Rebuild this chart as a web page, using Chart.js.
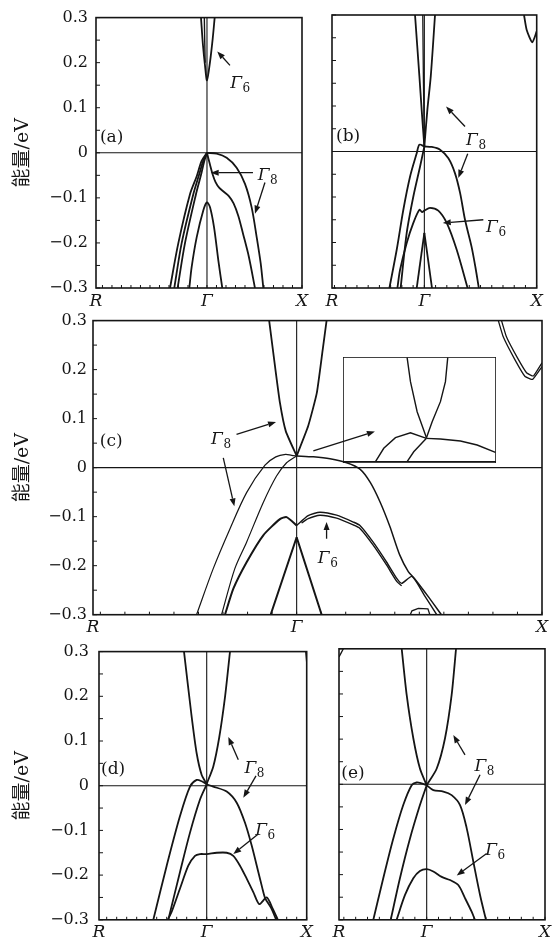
<!DOCTYPE html>
<html><head><meta charset="utf-8">
<script src="https://cdn.jsdelivr.net/npm/chart.js@4.4.1/dist/chart.umd.min.js"></script>
<style>
html,body{margin:0;padding:0;background:#fff;}
#fig{position:relative;width:559px;height:944px;overflow:hidden;background:#fff;}
#fig canvas{position:absolute;}
</style></head><body><div id="fig"></div>
<script>
// ---------- axis ticks ----------
const pathLabels = ['R', 'Γ', 'X'];
const energyTicks = [-0.3, -0.2, -0.1, 0, 0.1, 0.2, 0.3];
const pathA = [-1.168, 0, 1];
const pathB = [-0.822, 0, 1];
const pathC = [-0.830, 0, 1];
const pathD = [-1.077, 0, 1];
const pathE = [-0.741, 0, 1];

// ---------- bands, [k, E(eV)] ----------
// (a)
const aCond1 = [[-0.063,0.300],[-0.042,0.238],[-0.021,0.194],[0,0.161],[0.032,0.202],[0.060,0.253],[0.081,0.300]];
const aCond2 = [[-0.028,0.300],[-0.024,0.250],[-0.019,0.200]];
const aVal1 = [[-0.389,-0.300],[-0.302,-0.201],[-0.179,-0.092],[-0.108,-0.052],[-0.056,-0.018],[0,0]];
const aVal2 = [[-0.344,-0.300],[-0.267,-0.201],[-0.144,-0.092],[-0.085,-0.050],[-0.039,-0.018],[0,0]];
const aVal3 = [[-0.309,-0.300],[-0.232,-0.201],[-0.116,-0.092],[-0.064,-0.050],[-0.028,-0.018],[0,0]];
const aHH = [[0,0],[0.102,-0.002],[0.207,-0.011],[0.312,-0.033],[0.400,-0.069],[0.470,-0.121],[0.523,-0.187],[0.565,-0.245],[0.593,-0.300]];
const aLH = [[0,0],[0.030,-0.025],[0.060,-0.048],[0.090,-0.065],[0.130,-0.078],[0.180,-0.087],[0.230,-0.096],[0.280,-0.112],[0.330,-0.140],[0.380,-0.180],[0.440,-0.230],[0.505,-0.300]];
const aLow = [[-0.186,-0.300],[-0.161,-0.253],[-0.108,-0.187],[-0.039,-0.128],[0,-0.110],[0.032,-0.121],[0.074,-0.165],[0.119,-0.238],[0.161,-0.300]];
// (b)
const bCondL = [[-0.083,0.300],[-0.044,0.165],[-0.024,0.092],[0,0.011]];
const bCondR = [[0,0.011],[0.027,0.092],[0.057,0.165],[0.095,0.300]];
const bCond2 = [[-0.014,0.300],[-0.008,0.150],[0,0.011]];
const bVal1 = [[-0.311,-0.300],[-0.246,-0.216],[-0.187,-0.128],[-0.127,-0.055],[-0.068,-0.004],[-0.044,0.015],[0,0.011]];
const bVal2 = [[-0.211,-0.300],[-0.157,-0.179],[-0.098,-0.099],[-0.038,-0.033],[0,0.011]];
const bHH = [[0,0.011],[0.066,0.010],[0.140,0.004],[0.214,-0.015],[0.273,-0.048],[0.318,-0.091],[0.362,-0.150],[0.420,-0.209],[0.455,-0.255],[0.485,-0.300]];
const bG6 = [[-0.240,-0.300],[-0.216,-0.260],[-0.157,-0.201],[-0.098,-0.157],[-0.044,-0.128],[-0.020,-0.133],[0,-0.130],[0.050,-0.124],[0.124,-0.130],[0.199,-0.157],[0.288,-0.216],[0.385,-0.300]];
const bLowL = [[-0.068,-0.300],[0,-0.179]];
const bLowR = [[0,-0.179],[0.068,-0.300]];
const bEdge = [[0.887,0.300],[0.911,0.267],[0.961,0.240],[1.000,0.264]];
// (c)
const cCondL = [[-0.112,0.300],[-0.088,0.206],[-0.068,0.132],[-0.044,0.074],[0,0.024]];
const cCondR = [[0,0.024],[0.047,0.085],[0.082,0.152],[0.106,0.240],[0.122,0.300]];
const cVal1 = [[-0.408,-0.300],[-0.340,-0.206],[-0.272,-0.125],[-0.204,-0.051],[-0.129,0.005],[-0.085,0.022],[-0.045,0.027],[-0.020,0.025],[0,0.024]];
const cVal2 = [[-0.306,-0.300],[-0.252,-0.206],[-0.204,-0.152],[-0.136,-0.071],[-0.082,-0.017],[-0.041,0.010],[0,0.024]];
const cHH = [[0,0.024],[0.068,0.022],[0.136,0.018],[0.204,0.010],[0.258,-0.003],[0.300,-0.030],[0.340,-0.070],[0.380,-0.120],[0.420,-0.178],[0.455,-0.212],[0.480,-0.226],[0.535,-0.262],[0.590,-0.300]];
const cG6a = [[0,-0.118],[0.047,-0.098],[0.095,-0.091],[0.163,-0.097],[0.231,-0.111],[0.258,-0.118],[0.312,-0.152],[0.367,-0.193],[0.408,-0.226],[0.428,-0.236],[0.470,-0.222],[0.520,-0.260],[0.571,-0.300]];
const cG6b = [[0.020,-0.113],[0.047,-0.104],[0.095,-0.097],[0.163,-0.103],[0.231,-0.117],[0.258,-0.124],[0.312,-0.158],[0.367,-0.199],[0.408,-0.232],[0.428,-0.241]];
const cG6L = [[-0.292,-0.300],[-0.258,-0.247],[-0.204,-0.193],[-0.136,-0.138],[-0.068,-0.105],[-0.041,-0.101],[0,-0.118]];
const cLowL = [[-0.106,-0.300],[0,-0.142]];
const cLowR = [[0,-0.142],[0.102,-0.300]];
const cEdgeA = [[0.822,0.300],[0.842,0.267],[0.890,0.220],[0.931,0.186],[0.962,0.180],[1.000,0.206]];
const cEdgeB = [[0.835,0.300],[0.855,0.267],[0.900,0.224],[0.938,0.193],[0.965,0.187],[1.000,0.214]];
const cBump = [[0.463,-0.300],[0.470,-0.292],[0.496,-0.287],[0.535,-0.288],[0.543,-0.300]];
// (c) enlarged view near Γ
const iCondL = [[-0.0278,0.0845],[-0.0230,0.0664],[-0.0134,0.0437],[0,0.0240]];
const iCondR = [[0,0.0240],[0.0082,0.0361],[0.0201,0.0513],[0.0273,0.0664],[0.0306,0.0845]];
const iValR = [[0,0.0236],[0.0201,0.0231],[0.0489,0.0216],[0.0729,0.0186],[0.0992,0.0130]];
const iValOut = [[-0.0733,0.0060],[-0.0614,0.0161],[-0.0446,0.0241],[-0.0230,0.0278],[0,0.0236]];
const iValIn = [[-0.0278,0.0060],[-0.0183,0.0135],[0,0.0236]];
// (d)
const dCondL = [[-0.227,0.300],[-0.154,0.161],[-0.100,0.072],[-0.050,0.024],[0,0.004]];
const dCondR = [[0,0.004],[0.066,0.043],[0.126,0.109],[0.183,0.198],[0.233,0.300]];
const dVal1 = [[-0.534,-0.300],[-0.400,-0.179],[-0.267,-0.068],[-0.167,-0.002],[-0.100,0.013],[-0.050,0.010],[0,0.003]];
const dVal2 = [[-0.384,-0.300],[-0.267,-0.193],[-0.167,-0.105],[-0.067,-0.031],[0,0.003]];
const dHH = [[0,0.003],[0.066,-0.002],[0.200,-0.013],[0.300,-0.038],[0.383,-0.083],[0.450,-0.134],[0.516,-0.193],[0.555,-0.228],[0.585,-0.252],[0.645,-0.274],[0.695,-0.300]];
const dG6 = [[-0.390,-0.300],[-0.350,-0.282],[-0.267,-0.230],[-0.184,-0.179],[-0.117,-0.157],[-0.067,-0.153],[0,-0.153],[0.100,-0.150],[0.200,-0.150],[0.266,-0.157],[0.333,-0.179],[0.400,-0.208],[0.466,-0.238],[0.526,-0.265],[0.600,-0.250],[0.660,-0.275],[0.712,-0.300]];
const dEdge = [[0.990,0.300],[1.000,0.275]];
// (e)
const eCondL = [[-0.211,0.300],[-0.169,0.198],[-0.113,0.102],[-0.057,0.035],[0,-0.002]];
const eCondR = [[0,-0.002],[0.085,0.035],[0.155,0.102],[0.211,0.198],[0.248,0.300]];
const eVal1 = [[-0.451,-0.300],[-0.367,-0.208],[-0.282,-0.120],[-0.198,-0.046],[-0.127,-0.002],[-0.085,0.004],[-0.042,0.002],[0,-0.002]];
const eVal2 = [[-0.304,-0.300],[-0.226,-0.208],[-0.141,-0.120],[-0.057,-0.046],[0,-0.002]];
const eHH = [[0,-0.002],[0.056,-0.013],[0.141,-0.016],[0.211,-0.024],[0.282,-0.046],[0.338,-0.097],[0.394,-0.171],[0.451,-0.245],[0.501,-0.300]];
const eG6 = [[-0.254,-0.300],[-0.183,-0.245],[-0.113,-0.208],[-0.057,-0.192],[0,-0.188],[0.056,-0.193],[0.127,-0.205],[0.197,-0.212],[0.267,-0.223],[0.324,-0.252],[0.380,-0.282],[0.408,-0.300]];
const eEdge = [[-0.741,0.282],[-0.704,0.300]];

// ---------- drawing ----------
const SERIF = '"DejaVu Serif", "Liberation Serif", serif';
const INK = '#151515';
const fig = document.getElementById('fig');
const notesById = {};

function arrow(ctx, x0, y0, x1, y1) {
  const ang = Math.atan2(y1 - y0, x1 - x0), L = 8, W = 3;
  const bx = x1 - L * Math.cos(ang), by = y1 - L * Math.sin(ang);
  ctx.lineWidth = 1.3;
  ctx.beginPath(); ctx.moveTo(x0, y0); ctx.lineTo(bx, by); ctx.stroke();
  ctx.beginPath(); ctx.moveTo(x1, y1);
  ctx.lineTo(bx - W * Math.sin(ang), by + W * Math.cos(ang));
  ctx.lineTo(bx + W * Math.sin(ang), by - W * Math.cos(ang));
  ctx.closePath(); ctx.fill();
}

function gammaLabel(ctx, cx, cy, sub) {
  ctx.font = 'italic 17px ' + SERIF;
  const wG = ctx.measureText('Γ').width;
  ctx.font = '12px ' + SERIF;
  const wS = ctx.measureText(sub).width;
  const x0 = cx - (wG + wS) / 2, base = cy + 6;
  ctx.textAlign = 'left'; ctx.textBaseline = 'alphabetic';
  ctx.font = 'italic 17px ' + SERIF; ctx.fillText('Γ', x0, base);
  ctx.font = '12px ' + SERIF; ctx.fillText(sub, x0 + wG + 0.5, base + 4);
}

const notesPlugin = {
  id: 'bandNotes',
  afterDatasetsDraw(chart) {
    const n = notesById[chart.canvas.id];
    if (!n) return;
    const {ctx, chartArea: a} = chart;
    const xs = chart.scales.x, ys = chart.scales.y;
    const px = k => xs.getPixelForValue(k), py = e => ys.getPixelForValue(e);
    ctx.save();
    ctx.strokeStyle = INK; ctx.fillStyle = INK;
    if (n.minorTicks) {
      ctx.lineWidth = 1;
      ctx.beginPath();
      for (let i = -6; i <= 6; i++) { const y = py(i * 0.05); ctx.moveTo(a.left, y); ctx.lineTo(a.left + 4, y); }
      for (let i = Math.ceil(xs.min * 10); i <= Math.floor(xs.max * 10); i++) {
        const x = px(i / 10); ctx.moveTo(x, a.bottom); ctx.lineTo(x, a.bottom - 3);
      }
      ctx.stroke();
    }
    ctx.lineWidth = n.frameWidth || 1.6;
    ctx.strokeRect(a.left, a.top, a.right - a.left, a.bottom - a.top);
    if (n.baseTick) {
      ctx.lineWidth = 1;
      ctx.beginPath(); ctx.moveTo(a.left, a.bottom - 1.5); ctx.lineTo(a.right, a.bottom - 1.5); ctx.stroke();
    }
    (n.arrows || []).forEach(([f, t]) => arrow(ctx, px(f[0]), py(f[1]), px(t[0]), py(t[1])));
    (n.gammas || []).forEach(g => gammaLabel(ctx, px(g.at[0]), py(g.at[1]), g.sub));
    if (n.tag) {
      ctx.font = '17px ' + SERIF; ctx.textAlign = 'left'; ctx.textBaseline = 'middle';
      ctx.fillText(n.tag, px(n.tagAt[0]), py(n.tagAt[1]));
    }
    ctx.restore();
  }
};
Chart.register(notesPlugin);

function fmtEnergy(v) {
  const r = Math.round(v * 10) / 10;
  if (r === 0) return '0';
  return (r < 0 ? '\u2212' : '') + Math.abs(r).toFixed(1);
}

function line(pts, w, t) {
  return {
    data: pts.map(([k, e]) => ({x: k, y: e})),
    showLine: true, borderColor: INK, borderWidth: w, pointRadius: 0,
    tension: t, fill: false, clip: 0
  };
}

function panel(id, rect, box, path, bands, showY, yPad, notes) {
  const cv = document.createElement('canvas');
  cv.id = id; cv.width = rect.w; cv.height = rect.h;
  cv.style.left = rect.x + 'px'; cv.style.top = rect.y + 'px';
  cv.style.width = rect.w + 'px'; cv.style.height = rect.h + 'px';
  fig.appendChild(cv);
  notesById[id] = Object.assign({minorTicks: true}, notes);
  const datasets = bands.map(b => line(b.pts, b.w || 1.8, b.t === undefined ? 0.3 : b.t));
  datasets.push(line([[path[0], 0], [path[2], 0]], 1.1, 0));
  datasets.push(line([[0, -0.3], [0, 0.3]], 1.1, 0));
  new Chart(cv, {
    type: 'scatter',
    data: {datasets},
    options: {
      responsive: false, animation: false, devicePixelRatio: 1,
      layout: {padding: {top: box.t - rect.y, right: rect.x + rect.w - box.r, left: 0, bottom: 0}},
      plugins: {legend: {display: false}, tooltip: {enabled: false}},
      scales: {
        x: {
          type: 'linear', min: path[0], max: path[2],
          afterFit: s => { s.height = rect.y + rect.h - box.b; },
          afterBuildTicks: s => { s.ticks = path.map(v => ({value: v})); },
          ticks: {autoSkip: false, maxRotation: 0, padding: 3, color: INK,
                  font: {family: SERIF, style: 'italic', size: 17},
                  callback: (v, i) => pathLabels[i]},
          grid: {display: false, drawTicks: false}, border: {display: false}
        },
        y: {
          type: 'linear', min: -0.3, max: 0.3,
          afterFit: s => { s.width = box.l - rect.x; },
          afterBuildTicks: s => { s.ticks = energyTicks.map(v => ({value: v})); },
          ticks: {display: showY, padding: yPad, color: INK,
                  font: {family: SERIF, size: 16}, callback: v => fmtEnergy(v)},
          title: {display: showY, text: '能量/eV', color: INK,
                  font: {family: SERIF + ', "Noto Sans CJK SC"', size: 19},
                  padding: {top: 12, bottom: 0}},
          grid: {display: false, drawTicks: false}, border: {display: false}
        }
      }
    }
  });
}

// (a)
panel('pa', {x: 0, y: 0, w: 312, h: 312}, {l: 96, t: 15, r: 302, b: 288}, pathA,
  [{pts: aCond1}, {pts: aCond2, w: 1.4}, {pts: aVal1}, {pts: aVal2}, {pts: aVal3},
   {pts: aHH}, {pts: aLH}, {pts: aLow}], true, 8,
  {tag: '(a)', tagAt: [-1.126, 0.033],
   gammas: [{sub: '6', at: [0.347, 0.1575]}, {sub: '8', at: [0.637, -0.047]}],
   arrows: [[[0.242, 0.194], [0.108, 0.225]], [[0.484, -0.044], [0.039, -0.044]], [[0.61, -0.066], [0.505, -0.135]]]});

// (b)
panel('pb', {x: 312, y: 0, w: 247, h: 312}, {l: 332, t: 15, r: 536.7, b: 288}, pathB,
  [{pts: bCondL}, {pts: bCondR}, {pts: bCond2, w: 1.3}, {pts: bVal1}, {pts: bVal2},
   {pts: bHH}, {pts: bG6}, {pts: bLowL}, {pts: bLowR}, {pts: bEdge, t: 0.2}], false, 8,
  {tag: '(b)', tagAt: [-0.786, 0.032],
   gammas: [{sub: '8', at: [0.458, 0.0275]}, {sub: '6', at: [0.636, -0.163]}],
   arrows: [[[0.362, 0.055], [0.193, 0.099]], [[0.386, -0.005], [0.302, -0.058]], [[0.525, -0.15], [0.164, -0.157]]]});

// (c)
panel('pc', {x: 0, y: 305, w: 559, h: 335}, {l: 93, t: 318.7, r: 542, b: 614.7}, pathC,
  [{pts: cCondL, t: 0.15}, {pts: cCondR, t: 0.15}, {pts: cVal1, w: 1.2}, {pts: cVal2, w: 1.2},
   {pts: cHH, w: 1.5, t: 0.25}, {pts: cG6a, w: 1.4, t: 0.2}, {pts: cG6b, w: 1.4, t: 0.2},
   {pts: cG6L, w: 2, t: 0.2}, {pts: cLowL, w: 2}, {pts: cLowR, w: 2},
   {pts: cEdgeA, w: 1.3, t: 0.1}, {pts: cEdgeB, w: 1.3, t: 0.1}, {pts: cBump, w: 1.3, t: 0}], true, 6,
  {tag: '(c)', tagAt: [-0.802, 0.054],
   gammas: [{sub: '8', at: [-0.309, 0.061]}, {sub: '6', at: [0.126, -0.182]}],
   arrows: [[[-0.245, 0.068], [-0.084, 0.093]], [[-0.299, 0.02], [-0.254, -0.079]],
            [[0.068, 0.034], [0.319, 0.074]], [[0.122, -0.145], [0.122, -0.111]]]});

// (c) enlarged view near Γ (transparent, drawn over panel c)
(function () {
  const cv = document.createElement('canvas');
  cv.id = 'pin'; cv.width = 153; cv.height = 106;
  cv.style.left = '343px'; cv.style.top = '357px'; cv.style.width = '153px'; cv.style.height = '106px';
  fig.appendChild(cv);
  notesById.pin = {frameWidth: 1.6, baseTick: true};
  new Chart(cv, {
    type: 'scatter',
    data: {datasets: [iCondL, iCondR, iValR, iValOut, iValIn].map(p => line(p, 1.4, 0))},
    options: {
      responsive: false, animation: false, devicePixelRatio: 1,
      layout: {padding: 0},
      plugins: {legend: {display: false}, tooltip: {enabled: false}},
      scales: {x: {type: 'linear', min: -0.12, max: 0.10, display: false},
               y: {type: 'linear', min: 0.005, max: 0.085, display: false}}
    }
  });
})();

// (d)
panel('pd', {x: 0, y: 632, w: 318, h: 312}, {l: 99, t: 648.8, r: 306.7, b: 919.8}, pathD,
  [{pts: dCondL, t: 0.25}, {pts: dCondR, t: 0.25}, {pts: dVal1}, {pts: dVal2},
   {pts: dHH, t: 0.25}, {pts: dG6, t: 0.25}, {pts: dEdge, w: 1.3}], true, 10,
  {tag: '(d)', tagAt: [-1.057, 0.035],
   gammas: [{sub: '8', at: [0.475, 0.041]}, {sub: '6', at: [0.583, -0.097]}],
   arrows: [[[0.316, 0.058], [0.216, 0.109]], [[0.493, 0.022], [0.366, -0.027]], [[0.516, -0.108], [0.266, -0.153]]]});

// (e)
panel('pe', {x: 318, y: 632, w: 241, h: 312}, {l: 339, t: 648.8, r: 545, b: 919.8}, pathE,
  [{pts: eCondL, t: 0.25}, {pts: eCondR, t: 0.25}, {pts: eVal1}, {pts: eVal2},
   {pts: eHH}, {pts: eG6}, {pts: eEdge, w: 1.3}], false, 8,
  {tag: '(e)', tagAt: [-0.721, 0.024],
   gammas: [{sub: '8', at: [0.486, 0.043]}, {sub: '6', at: [0.577, -0.144]}],
   arrows: [[[0.324, 0.065], [0.225, 0.109]], [[0.451, 0.021], [0.324, -0.046]], [[0.507, -0.153], [0.254, -0.202]]]});
</script>
</body></html>
